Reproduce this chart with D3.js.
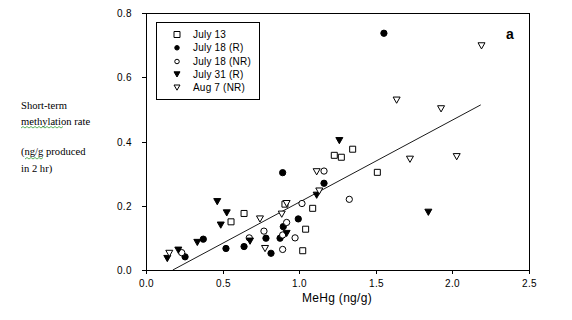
<!DOCTYPE html>
<html><head><meta charset="utf-8">
<script src="https://cdn.jsdelivr.net/npm/d3@7"></script>
<style>body{margin:0;background:#fff}svg{display:block}</style>
</head><body>
<svg id="c" width="572" height="320"></svg>
<script>
// ---- data ----
const xTicks = [0, 0.5, 1.0, 1.5, 2.0, 2.5];
const yTicks = [0, 0.2, 0.4, 0.6, 0.8];
const seriesNames = ["July 13", "July 18 (R)", "July 18 (NR)", "July 31 (R)", "Aug 7 (NR)"];
const july13 = [[0.555,0.150],[0.640,0.176],[0.907,0.205],[1.088,0.192],[1.042,0.127],[1.023,0.060],[1.229,0.357],[1.275,0.351],[1.349,0.376],[1.510,0.304]];
const july18R = [[0.255,0.041],[0.374,0.096],[0.522,0.067],[0.640,0.073],[0.783,0.099],[0.816,0.052],[0.875,0.099],[0.896,0.135],[0.994,0.159],[0.892,0.303],[1.162,0.270],[1.553,0.737]];
const july18NR = [[0.233,0.054],[0.674,0.100],[0.770,0.121],[0.918,0.148],[0.892,0.109],[0.973,0.100],[0.892,0.064],[1.018,0.207],[1.162,0.308],[1.327,0.220]];
const july31R = [[0.139,0.036],[0.211,0.062],[0.335,0.086],[0.465,0.213],[0.527,0.178],[0.488,0.140],[0.679,0.090],[0.918,0.114],[1.114,0.233],[1.262,0.403],[1.843,0.180]];
const aug7NR = [[0.152,0.052],[0.744,0.159],[0.777,0.067],[0.886,0.174],[0.918,0.207],[1.114,0.306],[1.131,0.246],[1.636,0.529],[1.723,0.345],[1.926,0.502],[2.028,0.353],[2.190,0.698]];
const fitLine = [[0.175,0.0],[2.185,0.514]];
const yLabelLines = ["Short-term", "methylation rate", "", "(ng/g produced", "in 2 hr)"];
const xTitle = "MeHg (ng/g)";
const panelLabel = "a";

// ---- drawing ----
const svg = d3.select("#c");
const x = d3.scaleLinear().domain([0, 2.5]).range([146, 529]);
const y = d3.scaleLinear().domain([0, 0.8]).range([270, 13]);

const shapes = {
  square: "M-3,-3H3V3H-3Z",
  circle: d3.symbol(d3.symbolCircle, 31)(),
  tri: "M-3.5,-3L3.5,-3L0,3.2Z"
};
const styles = [
  {shape: "square", fill: "#fff"},
  {shape: "circle", fill: "#000"},
  {shape: "circle", fill: "#fff"},
  {shape: "tri", fill: "#000"},
  {shape: "tri", fill: "#fff"}
];
const allSeries = [july13, july18R, july18NR, july31R, aug7NR];

// frame
svg.append("rect").attr("x", 146.5).attr("y", 13.5).attr("width", 383).attr("height", 257)
  .attr("fill", "none").attr("stroke", "#000").attr("shape-rendering", "crispEdges");

// ticks
const fontSans = "'Liberation Sans', Arial, sans-serif";
const gy = svg.append("g");
yTicks.forEach(v => {
  const py = Math.round(y(v)) + 0.5;
  gy.append("line").attr("x1", 142).attr("x2", 146).attr("y1", py).attr("y2", py)
    .attr("stroke", "#000").attr("shape-rendering", "crispEdges");
  gy.append("text").attr("x", 132).attr("y", py + 3.5).attr("text-anchor", "end")
    .attr("font-family", fontSans).attr("font-size", 10).attr("letter-spacing", 0.4)
    .text(v.toFixed(1));
});
const gx = svg.append("g");
xTicks.forEach(v => {
  const px = Math.round(x(v)) + 0.5;
  gx.append("line").attr("x1", px).attr("x2", px).attr("y1", 270).attr("y2", 274)
    .attr("stroke", "#000").attr("shape-rendering", "crispEdges");
  gx.append("text").attr("x", px).attr("y", 287).attr("text-anchor", "middle")
    .attr("font-family", fontSans).attr("font-size", 10).attr("letter-spacing", 0.4)
    .text(v.toFixed(1));
});

// x title
svg.append("text").attr("x", 337).attr("y", 302).attr("text-anchor", "middle")
  .attr("font-family", fontSans).attr("font-size", 12).attr("letter-spacing", 0.3)
  .text(xTitle);

// y label (serif, multi-line)
const yBase = [109, 125, 0, 155, 172];
yLabelLines.forEach((t, i) => {
  if (!t) return;
  svg.append("text").attr("x", 21).attr("y", yBase[i])
    .attr("font-family", "'Liberation Serif', 'Times New Roman', serif").attr("font-size", 10.6)
    .text(t);
});
// spell-check squiggles
function squiggle(x0, x1, yy) {
  let d = `M${x0},${yy}`;
  let up = true;
  for (let xx = x0 + 2; xx <= x1; xx += 2) { d += `L${xx},${up ? yy - 1.5 : yy}`; up = !up; }
  svg.append("path").attr("d", d).attr("fill", "none").attr("stroke", "#3aa03a").attr("stroke-width", 0.8);
}
squiggle(21, 63, 128);
squiggle(25, 43, 159);

// fit line
svg.append("line")
  .attr("x1", x(fitLine[0][0])).attr("y1", y(fitLine[0][1]))
  .attr("x2", x(fitLine[1][0])).attr("y2", y(fitLine[1][1]))
  .attr("stroke", "#000").attr("stroke-width", 0.9);

// points
allSeries.forEach((data, si) => {
  const st = styles[si];
  svg.append("g").selectAll("path").data(data).join("path")
    .attr("d", shapes[st.shape])
    .attr("transform", d => `translate(${x(d[0])},${y(d[1])})`)
    .attr("fill", st.fill).attr("stroke", "#000").attr("stroke-width", 1);
});

// legend
svg.append("rect").attr("x", 156.5).attr("y", 22.5).attr("width", 103).attr("height", 77)
  .attr("fill", "#fff").attr("stroke", "#000").attr("shape-rendering", "crispEdges");
const legY = [34.5, 47.8, 61.5, 74.3, 87.5];
const legShapes = {
  square: "M-3,-3H3V3H-3Z",
  circle: d3.symbol(d3.symbolCircle, 16)(),
  tri: "M-3,-2.5L3,-2.5L0,2.7Z"
};
seriesNames.forEach((n, i) => {
  const st = styles[i];
  svg.append("path").attr("d", legShapes[st.shape])
    .attr("transform", `translate(177,${legY[i]})`)
    .attr("fill", st.fill).attr("stroke", "#000").attr("stroke-width", 1);
  svg.append("text").attr("x", 193).attr("y", legY[i] + 3.6)
    .attr("font-family", fontSans).attr("font-size", 10).attr("letter-spacing", 0.2)
    .text(n);
});

// panel label
svg.append("text").attr("x", 510).attr("y", 38.5).attr("text-anchor", "middle")
  .attr("font-family", fontSans).attr("font-size", 14).attr("font-weight", "bold")
  .text(panelLabel);
</script>
</body></html>
